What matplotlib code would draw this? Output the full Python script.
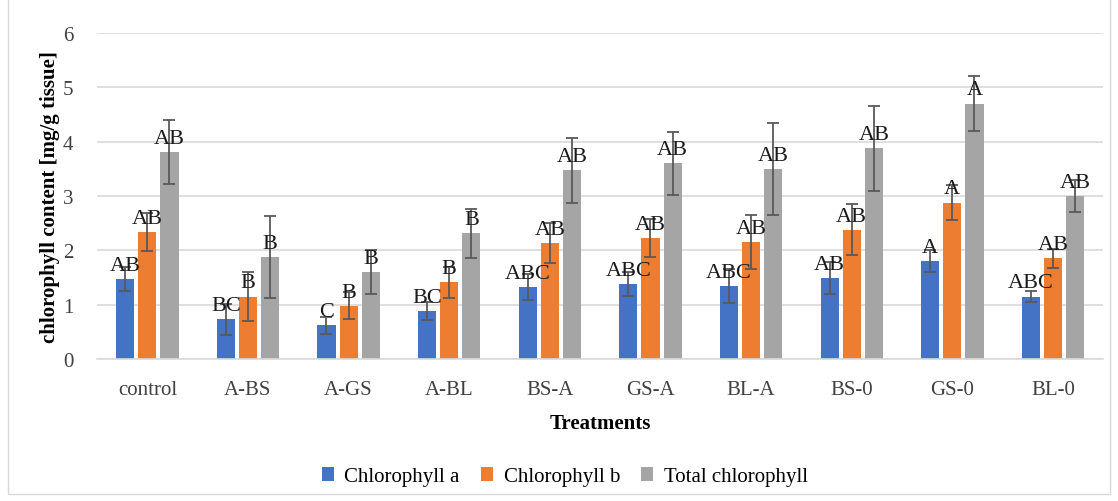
import numpy as np
import matplotlib
matplotlib.use('Agg')
import matplotlib.pyplot as plt
from matplotlib.patches import Rectangle

treatments = ['control', 'A-BS', 'A-GS', 'A-BL', 'BS-A', 'GS-A', 'BL-A', 'BS-0', 'GS-0', 'BL-0']

chl_a = [1.47, 0.73, 0.62, 0.88, 1.33, 1.38, 1.34, 1.49, 1.80, 1.15]
chl_a_err = [0.22, 0.28, 0.16, 0.17, 0.24, 0.22, 0.31, 0.29, 0.20, 0.11]
chl_b = [2.33, 1.15, 0.98, 1.41, 2.13, 2.22, 2.15, 2.38, 2.88, 1.85]
chl_b_err = [0.35, 0.45, 0.25, 0.28, 0.37, 0.35, 0.50, 0.47, 0.33, 0.18]
total = [3.81, 1.88, 1.60, 2.31, 3.47, 3.60, 3.50, 3.88, 4.70, 3.00]
total_err = [0.59, 0.76, 0.40, 0.45, 0.60, 0.58, 0.85, 0.78, 0.51, 0.30]

letters_a = ['AB', 'BC', 'C', 'BC', 'ABC', 'ABC', 'ABC', 'AB', 'A', 'ABC']
letters_b = ['AB', 'B', 'B', 'B', 'AB', 'AB', 'AB', 'AB', 'A', 'AB']
letters_t = ['AB', 'B', 'B', 'B', 'AB', 'AB', 'AB', 'AB', 'A', 'AB']

series = [
    ('Chlorophyll a', chl_a, chl_a_err, letters_a, '#4472C4'),
    ('Chlorophyll b', chl_b, chl_b_err, letters_b, '#ED7D31'),
    ('Total chlorophyll', total, total_err, letters_t, '#A5A5A5'),
]

plt.rcParams['font.family'] = ['Liberation Serif', 'DejaVu Serif']

fig = plt.figure(figsize=(11.18, 5.02), dpi=100)
ax = fig.add_axes([0.0868, 0.2829, 0.9, 0.6494])

fig.patches.append(Rectangle((8 / 1118, 7 / 502), 1102 / 1118, 1.2, transform=fig.transFigure,
                             fill=False, edgecolor='#d9d9d9', linewidth=1.0))

x = np.arange(len(treatments))
width = 0.18
offsets = [-0.22, 0.0, 0.22]

for (name, vals, errs, lets, color), off in zip(series, offsets):
    bars = ax.bar(x + off, vals, width, color=color, label=name, zorder=2)
    ax.errorbar(x + off, vals, yerr=errs, fmt='none', ecolor='#595959',
                elinewidth=1.3, capsize=4, capthick=1.3, zorder=3)
    for b, lab in zip(bars, lets):
        ax.annotate(lab, (b.get_x() + b.get_width() / 2, b.get_height()),
                    xytext=(0, 3), textcoords='offset points',
                    ha='center', va='bottom', fontsize=16, color='#1a1a1a', zorder=4)

ax.set_xlim(-0.5, len(treatments) - 0.5)
ax.set_ylim(0, 6)
ax.set_yticks(range(0, 7))
ax.set_xticks(x)
ax.set_xticklabels(treatments)
ax.tick_params(axis='both', length=0, labelsize=15, colors='#404040')
ax.tick_params(axis='x', pad=15)
ax.tick_params(axis='y', pad=17)
ax.yaxis.grid(True, color='#d9d9d9', linewidth=1.2, zorder=0)
ax.set_axisbelow(True)
for s in ['top', 'right', 'left']:
    ax.spines[s].set_visible(False)
ax.spines['bottom'].set_color('#d9d9d9')
ax.spines['bottom'].set_linewidth(1.2)

ax.set_xlabel('Treatments', fontsize=15, fontweight='bold', labelpad=10)
ax.set_ylabel('chlorophyll content [mg/g tissue]', fontsize=15, fontweight='bold', labelpad=2)

fig.legend(*ax.get_legend_handles_labels(), loc='center', bbox_to_anchor=(0.505, 0.048),
           ncol=3, frameon=False, fontsize=15, handlelength=0.6, handleheight=0.6,
           columnspacing=1.0, handletextpad=0.5)

fig.savefig('out.png', dpi=100)
